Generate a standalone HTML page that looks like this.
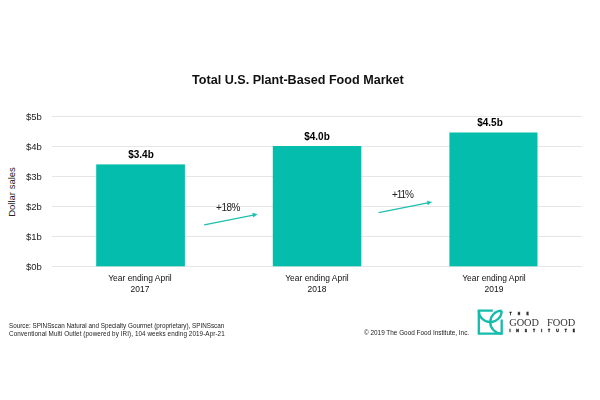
<!DOCTYPE html>
<html><head><meta charset="utf-8">
<style>
html,body{margin:0;padding:0;background:#fff;}
body{width:600px;height:400px;position:relative;overflow:hidden;font-family:"Liberation Sans",sans-serif;color:#222;}
.a{position:absolute;white-space:nowrap;}
.yl,.val,.xl,.pct,.fn,.copy,.title{will-change:transform;}
.title{left:192px;top:72.7px;font-size:12.6px;font-weight:bold;color:#111;}
.grid{position:absolute;left:52px;width:530px;height:1px;background:#e6e6e6;}
.yl{position:absolute;right:558.5px;font-size:9.5px;color:#222;text-align:right;}
.bar{position:absolute;background:#00bfa8;}
.val{position:absolute;font-size:10px;font-weight:bold;color:#000;text-align:center;}
.xl{position:absolute;font-size:8.45px;color:#111;text-align:center;line-height:10.5px;width:100px;}
.pct{position:absolute;font-size:10px;color:#222;}
.ylab{position:absolute;left:10.7px;top:192px;font-size:9.5px;color:#222;transform:translate(-50%,-50%) rotate(-90deg);}
.fn{position:absolute;left:9px;top:322px;font-size:6.3px;color:#1a1a1a;line-height:7.5px;}
.copy{position:absolute;left:364px;top:329px;font-size:6.4px;color:#1a1a1a;}
</style></head><body>
<div class="a title">Total U.S. Plant-Based Food Market</div>

<div class="grid" style="top:116px"></div>
<div class="grid" style="top:146px"></div>
<div class="grid" style="top:176px"></div>
<div class="grid" style="top:206px"></div>
<div class="grid" style="top:236px"></div>
<div class="grid" style="top:266px"></div>

<div class="yl" style="top:111px">$5b</div>
<div class="yl" style="top:141px">$4b</div>
<div class="yl" style="top:171px">$3b</div>
<div class="yl" style="top:201px">$2b</div>
<div class="yl" style="top:231px">$1b</div>
<div class="yl" style="top:261px">$0b</div>

<div class="a ylab">Dollar sales</div>

<svg class="a" style="left:0;top:0" width="600" height="400"><g fill="#04bdac">
<rect x="96.2" y="164.4" width="88.7" height="101.9"/>
<rect x="272.8" y="146.0" width="88.5" height="120.3"/>
<rect x="449.4" y="132.5" width="88.1" height="133.8"/>
</g></svg>

<div class="val" style="left:90.6px;top:148.5px;width:100px">$3.4b</div>
<div class="val" style="left:267.2px;top:130.5px;width:100px">$4.0b</div>
<div class="val" style="left:440px;top:116.5px;width:100px">$4.5b</div>

<div class="xl" style="left:90px;top:273px">Year ending April<br>2017</div>
<div class="xl" style="left:267px;top:273px">Year ending April<br>2018</div>
<div class="xl" style="left:444px;top:273px">Year ending April<br>2019</div>

<div class="pct" style="left:215.5px;top:201.8px;letter-spacing:-0.45px">+18%</div>
<div class="pct" style="left:391.8px;top:188.8px;letter-spacing:-1.1px">+11%</div>

<svg class="a" style="left:0;top:0" width="600" height="400">
  <g fill="#1dbfae" stroke="#1dbfae">
  <line x1="204.2" y1="224.8" x2="253.4" y2="215.2" stroke-width="1.25"/>
  <polygon points="257.4,214.2 253.3,217.16 252.5,213.04" stroke-width="0.3"/>
  <line x1="378.7" y1="212.6" x2="427.8" y2="202.9" stroke-width="1.25"/>
  <polygon points="431.8,202.1 427.8,205.03 427.0,200.9" stroke-width="0.3"/>
  </g>
</svg>

<div class="fn">Source: SPINSscan Natural and Specialty Gourmet (proprietary), SPINSscan<br><span style="letter-spacing:0.085px">Conventional Multi Outlet (powered by IRI), 104 weeks ending 2019-Apr-21</span></div>
<div class="copy">© 2019 The Good Food Institute, Inc.</div>

<svg class="a" style="left:474px;top:306px" width="34" height="32" viewBox="0 0 34 32">
  <g fill="none" stroke="#14bcab" stroke-width="2.3">
    <path d="M18.8 4.7 H4.8 V27.6 H27.7 V13.6"/>
    <path d="M4.8 4.7 A11.45 11.45 0 0 0 27.7 4.7"/>
    <path d="M27.7 4.7 A11.45 11.45 0 0 0 27.7 27.6"/>
  </g>
</svg>
<svg class="a" style="left:500px;top:305px" width="90" height="35">
  <text x="9.4" y="10.4" font-family="Liberation Sans" font-weight="bold" font-size="3.4" fill="#111" stroke="#111" stroke-width="0.3" textLength="19.4" lengthAdjust="spacing">THE</text>
  <text x="9.2" y="20.6" font-family="Liberation Serif" font-size="10" fill="#333" textLength="29.8" lengthAdjust="spacingAndGlyphs">GOOD</text>
  <text x="46.9" y="20.6" font-family="Liberation Serif" font-size="10" fill="#333" textLength="28.4" lengthAdjust="spacingAndGlyphs">FOOD</text>
  <text x="9.4" y="26.6" font-family="Liberation Sans" font-weight="bold" font-size="3.4" fill="#111" stroke="#111" stroke-width="0.3" textLength="65.6" lengthAdjust="spacing">INSTITUTE</text>
</svg>
</body></html>
